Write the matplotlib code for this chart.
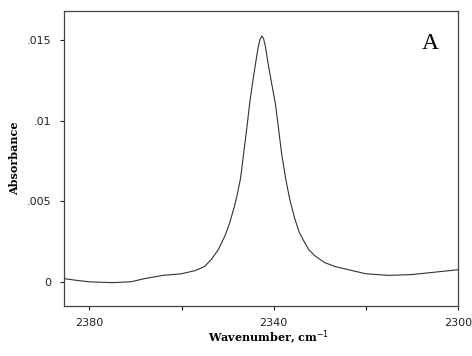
import matplotlib
matplotlib.use("Agg")
import matplotlib.pyplot as plt
from matplotlib.ticker import FixedLocator, FixedFormatter

wavenumber = [2385.5, 2383, 2380, 2375, 2371, 2368, 2364, 2360, 2357, 2355, 2353.5,
              2352, 2350.5, 2349.5, 2348.5, 2348, 2347.2, 2346.5, 2345.8, 2345.2, 2344.5,
              2343.9, 2343.4, 2343.0, 2342.6, 2342.2, 2341.8, 2341.3, 2340.5, 2339.6,
              2338.9, 2338.3, 2337.4, 2336.5, 2335.5, 2334.5, 2333.4, 2332.4, 2331, 2329,
              2326.7, 2323, 2320, 2315, 2310, 2305, 2300]
absorbance = [0.0002, 0.0001, 0.0, -0.00005, 0.0, 0.0002, 0.0004, 0.0005, 0.0007, 0.00095, 0.0014,
              0.0020, 0.0029, 0.0037, 0.0047, 0.0053, 0.0064, 0.0080, 0.0096, 0.0111, 0.0125,
              0.0136, 0.0145, 0.0150, 0.01525, 0.0151, 0.0146, 0.0137, 0.0124, 0.0110,
              0.0094, 0.0080, 0.0064, 0.0051, 0.0040, 0.0031, 0.0025, 0.0020, 0.0016, 0.0012,
              0.00095, 0.0007, 0.0005, 0.0004, 0.00045, 0.0006, 0.00075]

x_major = [2380, 2340, 2300]
x_major_labels = ["2380", "2340", "2300"]
x_minor = [2360, 2320]
y_major = [0, 0.005, 0.01, 0.015]
y_major_labels = ["0", ".005", ".01", ".015"]

fig = plt.figure(figsize=(4.72, 3.56), dpi=100)
ax = fig.add_axes([64/472, 1-306/356, (458-64)/472, (306-11)/356])
ax.plot(wavenumber, absorbance, color="#333333", lw=0.8)
ax.set_xlim(2385.5, 2300)
ax.set_ylim(-0.0015, 0.0168)

ax.xaxis.set_major_locator(FixedLocator(x_major))
ax.xaxis.set_major_formatter(FixedFormatter(x_major_labels))
ax.xaxis.set_minor_locator(FixedLocator(x_minor))
ax.yaxis.set_major_locator(FixedLocator(y_major))
ax.yaxis.set_major_formatter(FixedFormatter(y_major_labels))

for s in ax.spines.values():
    s.set_linewidth(0.9)
    s.set_color("#444444")
ax.tick_params(axis="both", which="major", direction="out", length=3, width=0.8,
               labelsize=8, colors="#222222", pad=6)
ax.tick_params(axis="both", which="minor", direction="out", length=3, width=0.8)
for lab in ax.get_xticklabels() + ax.get_yticklabels():
    lab.set_family("DejaVu Sans")

ax.set_xlabel("Wavenumber, cm$^{-1}$", fontsize=8, fontweight="bold",
              family="DejaVu Serif")
ax.set_ylabel("Absorbance", fontsize=8, fontweight="bold",
              family="DejaVu Serif")
ax.yaxis.set_label_coords(-0.112, 0.5)
ax.xaxis.set_label_coords(0.52, -0.075)
ax.text(0.93, 0.89, "A", transform=ax.transAxes, fontsize=17,
        family="Liberation Serif", ha="center", va="center")

fig.savefig("out.png", dpi=100)
